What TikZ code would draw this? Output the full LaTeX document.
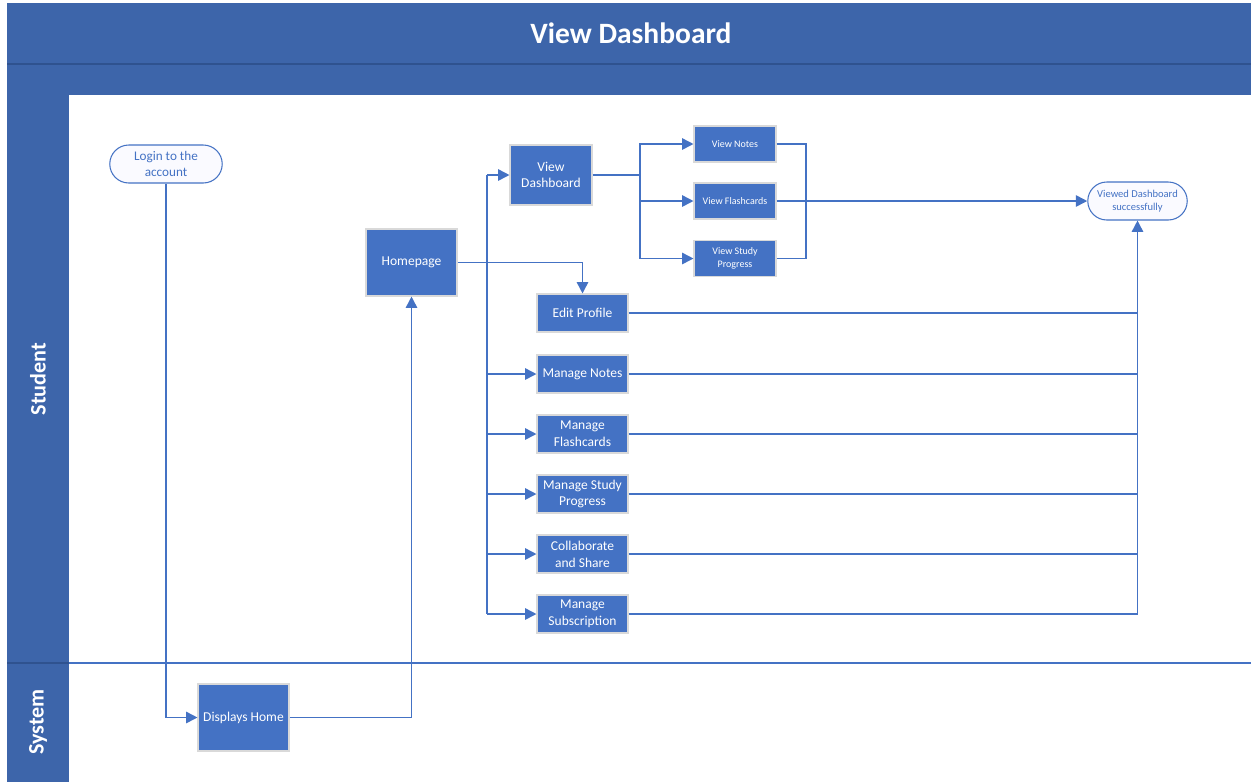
\documentclass[tikz,border=0pt]{standalone}
\usepackage{fontspec}
\setmainfont{Carlito}
\usepackage{tikz}
\usetikzlibrary{positioning}
\usetikzlibrary{arrows.meta}
\usetikzlibrary{shapes}

\definecolor{laneBlue}{HTML}{3D65AA}
\definecolor{laneLine}{HTML}{2F528F}
\definecolor{boxBlue}{HTML}{4472C4}

\tikzset{
	stepBox/.style={rectangle, fill=boxBlue, draw=gray!30, line width=0.6pt, text=white, align=center, inner sep=1pt, font=\fontsize{7.7}{9.5}\selectfont},
	smallBox/.style={stepBox, minimum width=1.64cm, minimum height=0.72cm, font=\fontsize{5.7}{7.5}\selectfont},
	endBox/.style={rounded rectangle, draw=boxBlue, fill=blue!2, text=boxBlue, line width=0.6pt, align=center, inner sep=1pt},
	link/.style={draw=boxBlue, line width=0.9pt},
	flow/.style={link, ->},
	laneText/.style={text=white, rotate=90, font=\fontsize{12.6}{14}\selectfont\bfseries}
}

\begin{document}
\begin{tikzpicture}[x=0.02cm, y=-0.02cm, >={Triangle[width=6.5pt,length=6.5pt]}]
		\useasboundingbox (0,0) rectangle (1251,782);

		% swimlanes
		\fill[laneBlue] (7,3) rectangle (1251,95);
		\draw[laneLine, line width=0.6pt] (7,64) -- (1251,64);
		\fill[laneBlue] (7,95) rectangle (69,782);
		\draw[laneLine, line width=0.6pt] (7,663) -- (69,663);
		\draw[link, line width=0.7pt] (69,663) -- (1251,663);
		\node[text=white, font=\fontsize{16.8}{20}\selectfont\bfseries](title) at (631,33){View Dashboard};
		\node[laneText](studentLane) at (38,379){Student};
		\node[laneText](systemLane) at (38,722){System};

		% start and end
		\node[endBox, minimum width=2.32cm, minimum height=0.76cm, font=\fontsize{7.5}{9}\selectfont](login) at (166,164){Login to the\\account};
		\node[endBox, minimum width=2.06cm, minimum height=0.76cm, font=\fontsize{6}{7.5}\selectfont](viewed) at (1137.5,201){Viewed Dashboard\\successfully};

		% steps
		\node[stepBox, minimum width=1.82cm, minimum height=1.34cm](displayHome) at (243.5,717.5){Displays Home};
		\node[stepBox, minimum width=1.82cm, minimum height=1.34cm](homepage) at (411.5,262.5){Homepage};
		\node[stepBox, minimum width=1.64cm, minimum height=1.2cm](viewDash) at (551,175){View\\Dashboard};

		\node[smallBox](viewNotes) at (735,144){View Notes};
		\node[smallBox](viewFlash) at (735,201){View Flashcards};
		\node[smallBox](viewProgress) at (735,258.5){View Study\\Progress};

		\node[stepBox, minimum width=1.82cm, minimum height=0.76cm](editProfile) at (582.5,313){Edit Profile};
		\node[stepBox, minimum width=1.82cm, minimum height=0.76cm](manageNotes) at (582.5,374){Manage Notes};
		\node[stepBox, minimum width=1.82cm, minimum height=0.76cm](manageFlash) at (582.5,434){Manage\\Flashcards};
		\node[stepBox, minimum width=1.82cm, minimum height=0.76cm](manageProgress) at (582.5,494){Manage Study\\Progress};
		\node[stepBox, minimum width=1.82cm, minimum height=0.76cm](collabShare) at (582.5,554){Collaborate\\and Share};
		\node[stepBox, minimum width=1.82cm, minimum height=0.76cm](manageSub) at (582.5,614){Manage\\Subscription};

		% junction points
		\coordinate (busTop) at (487,175);
		\coordinate (busBottom) at (487,614);
		\coordinate (dashSplit) at (640,175);
		\coordinate (viewJoin) at (806,201);

		% draw login edges
		\draw[flow] (login.south) |- (displayHome.west);
		\draw[flow] (displayHome.east) -| (homepage.south);
		\draw[flow] (homepage.east) -| (editProfile.north);

		% draw menu edges
		\draw[link] (busTop) -- (busBottom);
		\draw[flow] (busTop) -- (viewDash.west);
		\draw[flow] (busTop |- manageNotes.west) -- (manageNotes.west);
		\draw[flow] (busTop |- manageFlash.west) -- (manageFlash.west);
		\draw[flow] (busTop |- manageProgress.west) -- (manageProgress.west);
		\draw[flow] (busTop |- collabShare.west) -- (collabShare.west);
		\draw[flow] (busBottom) -- (manageSub.west);

		% draw dashboard edges
		\draw[link] (viewDash.east) -- (dashSplit);
		\draw[flow] (dashSplit) |- (viewNotes.west);
		\draw[flow] (dashSplit) |- (viewFlash.west);
		\draw[flow] (dashSplit) |- (viewProgress.west);
		\draw[link] (viewNotes.east) -| (viewJoin);
		\draw[link] (viewProgress.east) -| (viewJoin);
		\draw[flow] (viewFlash.east) -- (viewed.west);

		% draw finish edges
		\draw[link] (editProfile.east) -- (viewed.south |- editProfile.east);
		\draw[link] (manageNotes.east) -- (viewed.south |- manageNotes.east);
		\draw[link] (manageFlash.east) -- (viewed.south |- manageFlash.east);
		\draw[link] (manageProgress.east) -- (viewed.south |- manageProgress.east);
		\draw[link] (collabShare.east) -- (viewed.south |- collabShare.east);
		\draw[flow] (manageSub.east) -| (viewed.south);

	\end{tikzpicture}
\end{document}
